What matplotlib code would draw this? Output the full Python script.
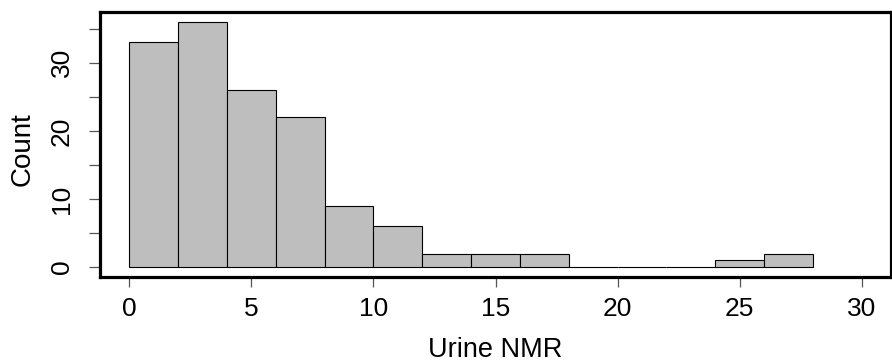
import numpy as np
import matplotlib
matplotlib.use('Agg')
import matplotlib.pyplot as plt

plt.rcParams['font.family'] = ['Liberation Sans', 'DejaVu Sans']

# histogram of urine NMR values, bins of width 2
bin_edges = [0, 2, 4, 6, 8, 10, 12, 14, 16, 18, 20, 22, 24, 26, 28]
counts = [33, 36, 26, 22, 9, 6, 2, 2, 2, 0, 0, 0, 1, 2]
x_ticks = [0, 5, 10, 15, 20, 25, 30]
y_ticks = [0, 5, 10, 15, 20, 25, 30, 35]
y_labels = ['0', '', '10', '', '20', '', '30', '']

fig = plt.figure(figsize=(8.92, 3.62), dpi=100)
ax = fig.add_axes([100 / 892, 1 - 277 / 362, 791 / 892, 265 / 362])

lefts = np.array(bin_edges[:-1])
widths = np.diff(bin_edges)
ax.bar(lefts, counts, width=widths, align='edge', color='#bebebe',
       edgecolor='black', linewidth=0.8)

ax.set_xlim(-1.2, 31.2)
ax.set_ylim(-1.44, 37.44)
ax.set_xticks(x_ticks)
ax.set_yticks(y_ticks)
ax.set_yticklabels(y_labels, rotation=90, va='center')

for s in ax.spines.values():
    s.set_linewidth(2.3)
ax.tick_params(axis='both', direction='out', color='#555555', width=0.9,
               labelsize=19)
ax.tick_params(axis='x', length=7.5, pad=7)
ax.tick_params(axis='y', length=8, pad=11)

fig.text(495 / 892, 1 - 350 / 362, 'Urine NMR', ha='center', va='center',
         fontsize=19.5)
fig.text(23 / 892, 1 - 149 / 362, 'Count', ha='center', va='center',
         rotation=90, fontsize=20)

fig.savefig('out.png', dpi=100)
